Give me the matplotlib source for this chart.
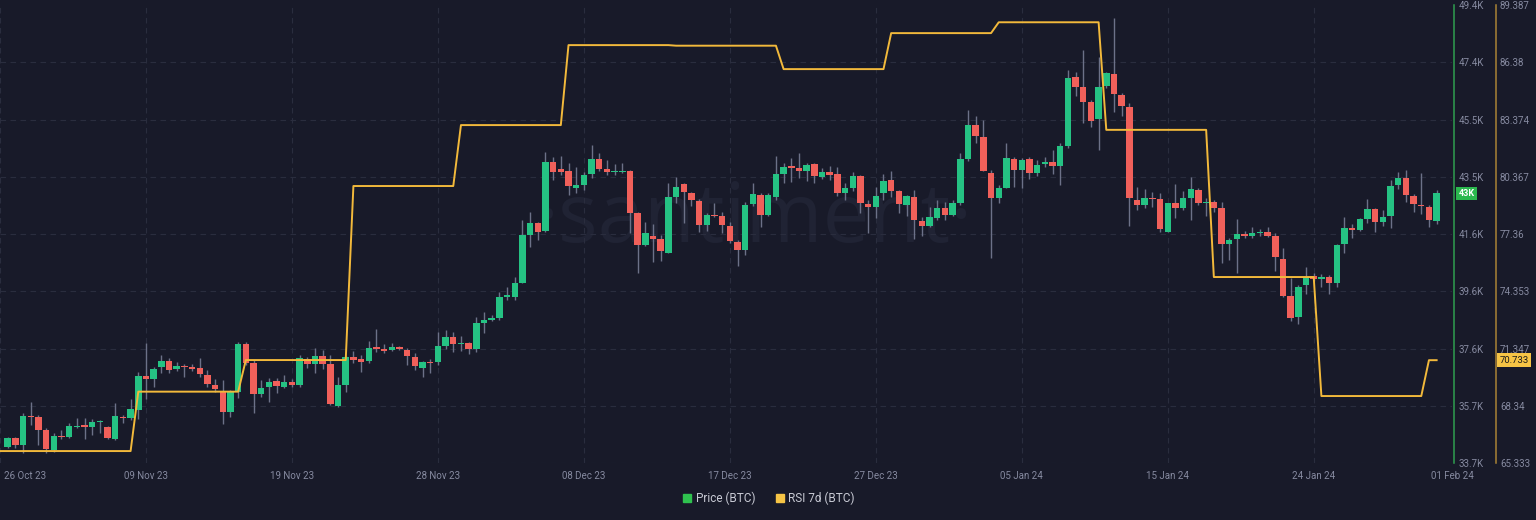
import numpy as np
import pandas as pd
import matplotlib
matplotlib.use("Agg")
import matplotlib.pyplot as plt
import matplotlib.dates as mdates
from matplotlib.lines import Line2D

plt.rcParams["font.family"] = ["Roboto", "DejaVu Sans"]

# 12h BTC candles, values in thousands of USD
candle_start = "2023-10-31 00:00"
opens = [
    34.26, 34.55, 34.32, 35.32, 35.27, 34.83, 34.14, 34.62, 34.60, 34.95,
    34.99, 34.92, 35.10, 34.92, 34.52, 35.29, 35.23, 35.52, 36.69, 36.58,
    36.98, 37.21, 36.91, 37.03, 36.98, 36.96, 36.71, 36.37, 36.14, 35.44,
    36.14, 37.78, 37.12, 36.05, 36.29, 36.51, 36.30, 36.48, 36.37, 37.25,
    37.09, 37.37, 37.08, 35.65, 36.37, 37.32, 37.26, 37.19, 37.67, 37.62,
    37.57, 37.69, 37.57, 37.34, 36.96, 37.17, 37.15, 37.72, 38.03, 37.78,
    37.80, 37.62, 38.49, 38.60, 38.67, 39.39, 39.40, 39.88, 41.51, 41.92,
    41.65, 44.02, 43.77, 43.71, 43.13, 43.23, 43.61, 44.11, 43.77, 43.68,
    43.67, 43.72, 42.26, 41.17, 41.49, 41.38, 40.91, 42.83, 43.26, 42.96,
    42.69, 41.86, 42.21, 42.15, 41.83, 41.26, 41.00, 42.58, 42.89, 42.20,
    42.81, 43.60, 43.88, 43.80, 43.71, 43.95, 43.51, 43.67, 43.60, 42.94,
    43.14, 43.54, 42.58, 42.46, 42.94, 43.40, 43.02, 42.54, 42.83, 42.00,
    41.83, 42.09, 42.43, 42.20, 42.62, 44.11, 45.30, 44.88, 43.63, 42.79,
    43.13, 44.12, 43.74, 44.11, 43.63, 43.95, 44.01, 43.89, 44.58, 46.94,
    46.60, 46.06, 45.48, 46.62, 47.02, 46.31, 45.91, 42.71, 42.54, 42.77,
    42.74, 41.63, 42.60, 42.43, 42.77, 43.06, 42.60, 42.66, 42.43, 41.20,
    41.37, 41.54, 41.48, 41.59, 41.61, 41.47, 40.69, 39.42, 38.71, 39.79,
    40.11, 40.01, 40.06, 39.86, 41.20, 41.74, 41.69, 42.05, 42.40, 41.97,
    42.16, 43.23, 43.46, 42.86, 42.55, 42.48, 41.98,
]
highs = [
    34.60, 34.60, 35.40, 35.80, 35.34, 34.89, 34.72, 34.83, 35.06, 35.23,
    35.23, 35.20, 35.17, 34.97, 35.74, 35.34, 35.88, 36.83, 37.82, 37.00,
    37.40, 37.29, 37.17, 37.11, 37.11, 37.29, 36.89, 36.57, 36.54, 36.20,
    37.84, 37.84, 37.23, 36.54, 36.60, 36.60, 36.71, 36.57, 37.40, 37.34,
    37.63, 37.57, 37.40, 36.66, 37.37, 37.55, 37.40, 37.88, 38.30, 37.78,
    37.80, 37.72, 37.63, 37.46, 37.21, 37.25, 38.20, 38.26, 38.18, 38.05,
    37.86, 38.71, 38.86, 38.77, 39.57, 39.73, 40.06, 42.03, 42.31, 41.95,
    44.36, 44.20, 44.22, 44.00, 43.86, 43.68, 44.60, 44.31, 44.09, 43.95,
    43.97, 43.74, 42.31, 41.97, 41.89, 41.51, 43.29, 43.51, 43.31, 43.00,
    42.74, 42.28, 42.60, 42.31, 41.97, 41.34, 42.63, 43.29, 42.94, 42.94,
    44.22, 43.99, 44.14, 44.31, 43.99, 43.97, 43.80, 43.88, 43.84, 43.29,
    43.68, 43.57, 42.71, 43.15, 43.60, 43.72, 43.06, 42.89, 43.06, 42.14,
    42.48, 42.71, 42.66, 42.71, 44.31, 45.80, 45.60, 45.46, 43.74, 43.23,
    44.68, 44.20, 44.14, 44.18, 44.09, 44.20, 44.43, 44.68, 47.17, 47.09,
    47.86, 46.14, 47.63, 47.11, 48.95, 46.39, 46.03, 43.17, 43.08, 43.00,
    42.94, 42.62, 43.26, 43.03, 43.51, 43.12, 42.77, 42.71, 42.66, 41.43,
    42.06, 41.66, 41.80, 41.72, 41.78, 41.57, 41.06, 40.05, 39.80, 40.41,
    40.20, 40.18, 40.13, 41.20, 42.14, 41.89, 42.09, 42.74, 42.43, 42.37,
    43.40, 43.66, 43.74, 42.92, 43.65, 42.54, 43.06,
]
lows = [
    34.20, 34.20, 34.05, 35.00, 34.32, 34.03, 34.09, 34.51, 34.55, 34.89,
    34.51, 34.66, 34.74, 34.51, 34.49, 35.08, 35.17, 35.20, 35.88, 36.31,
    36.77, 36.79, 36.86, 36.66, 36.86, 36.66, 36.31, 36.14, 35.02, 35.27,
    35.94, 37.06, 35.42, 35.97, 35.80, 36.11, 36.26, 36.29, 36.31, 36.94,
    36.79, 36.92, 35.69, 35.63, 36.14, 37.12, 36.83, 37.14, 37.50, 37.48,
    37.55, 37.57, 37.06, 36.89, 36.66, 36.79, 37.06, 37.61, 37.51, 37.55,
    37.43, 37.51, 38.17, 38.58, 38.60, 39.29, 39.29, 39.86, 41.11, 41.34,
    41.63, 43.40, 43.57, 42.89, 42.96, 43.06, 43.46, 43.72, 43.56, 43.56,
    43.63, 41.57, 40.22, 41.14, 40.59, 40.63, 40.89, 42.62, 41.92, 42.51,
    41.63, 41.66, 42.12, 41.57, 41.23, 40.45, 40.83, 42.51, 41.78, 42.17,
    42.71, 43.29, 43.34, 43.46, 43.38, 43.31, 43.42, 43.40, 42.85, 42.71,
    43.03, 42.28, 41.59, 42.09, 42.71, 42.83, 42.26, 42.17, 41.37, 41.48,
    41.78, 42.03, 42.03, 42.17, 42.54, 44.05, 44.67, 43.70, 40.73, 42.62,
    43.12, 43.17, 43.12, 43.42, 43.54, 43.86, 43.61, 43.23, 44.49, 46.28,
    45.36, 45.21, 44.43, 46.55, 45.74, 45.59, 41.83, 42.37, 42.43, 42.48,
    41.63, 41.61, 42.09, 42.37, 42.03, 42.54, 42.17, 42.31, 40.54, 40.66,
    40.22, 41.43, 41.40, 41.48, 41.44, 40.29, 39.38, 38.58, 38.45, 39.49,
    39.95, 39.72, 39.49, 39.74, 40.91, 41.40, 41.65, 41.94, 41.63, 41.82,
    41.76, 43.08, 42.64, 42.31, 42.23, 41.80, 41.89,
]
closes = [
    34.55, 34.32, 35.32, 35.29, 34.83, 34.17, 34.62, 34.59, 34.97, 34.96,
    34.94, 35.11, 35.12, 34.55, 35.32, 35.23, 35.54, 36.69, 36.58, 36.92,
    37.21, 36.89, 37.03, 36.98, 36.93, 36.74, 36.41, 36.24, 35.44, 36.14,
    37.78, 37.12, 36.05, 36.26, 36.49, 36.35, 36.48, 36.37, 37.29, 37.09,
    37.37, 37.09, 35.71, 36.37, 37.32, 37.23, 37.17, 37.63, 37.62, 37.54,
    37.69, 37.60, 37.38, 37.03, 37.15, 37.14, 37.72, 38.03, 37.77, 37.79,
    37.62, 38.49, 38.60, 38.68, 39.39, 39.45, 39.88, 41.51, 41.92, 41.61,
    44.02, 43.68, 43.68, 43.19, 43.23, 43.58, 44.11, 43.79, 43.67, 43.69,
    43.71, 42.26, 41.17, 41.57, 41.38, 40.98, 42.81, 43.15, 42.98, 42.71,
    41.86, 42.21, 42.15, 41.86, 41.31, 41.00, 42.54, 42.91, 42.20, 42.89,
    43.60, 43.84, 43.82, 43.71, 43.92, 43.54, 43.67, 43.58, 42.96, 43.14,
    43.54, 42.62, 42.46, 42.86, 43.38, 43.02, 42.57, 42.85, 42.03, 41.83,
    42.12, 42.43, 42.20, 42.62, 44.11, 45.29, 44.90, 43.72, 42.79, 43.13,
    44.14, 43.74, 44.09, 43.63, 43.90, 44.02, 43.89, 44.58, 46.91, 46.58,
    46.08, 45.42, 46.58, 47.06, 46.34, 45.95, 42.79, 42.54, 42.77, 42.74,
    41.72, 42.60, 42.45, 42.77, 43.08, 42.60, 42.66, 42.43, 41.20, 41.34,
    41.54, 41.48, 41.59, 41.63, 41.48, 40.75, 39.43, 38.68, 39.74, 40.06,
    40.00, 40.08, 39.86, 41.17, 41.74, 41.69, 42.05, 42.40, 41.97, 42.14,
    43.20, 43.48, 42.89, 42.57, 42.52, 42.03, 42.94,
]

# weekly RSI 7d, each value holds from its start time until the next one
rsi_start = [
    "2023-10-31 00:00", "2023-11-08 12:00", "2023-11-15 12:00", "2023-11-22 12:00",
    "2023-11-29 12:00", "2023-12-06 12:00", "2023-12-13 12:00", "2023-12-20 12:00",
    "2023-12-27 12:00", "2024-01-03 12:00", "2024-01-10 12:00", "2024-01-17 12:00",
    "2024-01-24 12:00", "2024-01-31 12:00",
]
rsi_values = [65.96, 69.08, 70.74, 79.88, 83.08, 87.28, 87.25, 86.02,
              87.91, 88.48, 82.83, 75.10, 68.85, 70.733]

price_ticks = ["33.7K", "35.7K", "37.6K", "39.6K", "41.6K", "43.5K", "45.5K", "47.4K", "49.4K"]
rsi_ticks = ["65.333", "68.34", "71.347", "74.353", "77.36", "80.367", "83.374", "86.38", "89.387"]
date_labels = ["26 Oct 23", "09 Nov 23", "19 Nov 23", "28 Nov 23", "08 Dec 23", "17 Dec 23",
               "27 Dec 23", "05 Jan 24", "15 Jan 24", "24 Jan 24", "01 Feb 24"]

BG = "#181a29"
GREEN = "#25c283"
RED = "#f0605a"
WICK = "#6c7188"
YELLOW = "#f2b93b"
TXT = "#868aa0"
GRID = "#2a2d3e"

times = pd.date_range(candle_start, periods=len(opens), freq="12h")
x = mdates.date2num(times)
o, h, l, c = (np.array(a) for a in (opens, highs, lows, closes))
up = c >= o

rsi_x = mdates.date2num(pd.to_datetime(rsi_start))
rsi_line = np.array(rsi_values)[np.searchsorted(rsi_x, x, side="right") - 1]

x0 = mdates.date2num(pd.Timestamp("2023-10-30 12:00"))
x1 = mdates.date2num(pd.Timestamp("2024-02-02 00:00"))

fig = plt.figure(figsize=(15.36, 5.2), dpi=100, facecolor=BG)
ax = fig.add_axes([0, 57 / 520, 1452 / 1536, 458 / 520])
ax.set_facecolor(BG)
ax2 = ax.twinx()

# watermark
ax.text(0.52, 0.53, "·santiment·", transform=ax.transAxes, ha="center", va="center",
        fontsize=60, color="#202334", family="Open Sans", zorder=0)

# candles
ax.vlines(x, l, h, color=WICK, lw=1, zorder=2)
body = np.maximum(np.abs(c - o), 0.03)
ax.bar(x, body, bottom=np.minimum(o, c), width=0.42,
       color=np.where(up, GREEN, RED), linewidth=0, zorder=3)

# RSI line runs in from the left edge
ax2.plot(np.r_[x0, x], np.r_[rsi_line[0], rsi_line], color=YELLOW, lw=1.4, zorder=4)

# axes, ticks, grid
pt = np.linspace(33.7, 49.4, 9)
rt = np.linspace(65.333, 89.387, 9)
ax.set_ylim(33.7, 49.4)
ax2.set_ylim(65.333, 89.387)
ax.set_xlim(x0, x1)
ax.yaxis.tick_right()
ax.set_yticks(pt, price_ticks)
ax2.set_yticks(rt, rsi_ticks)

xt = [x0 + 9.5 * k for k in range(10)] + [x1]
ax.set_xticks(xt, [""] + date_labels[1:])
ax.annotate(date_labels[0], xy=(0, 0), xycoords="axes fraction", xytext=(3, -6),
            textcoords="offset points", ha="left", va="top", fontsize=7, color=TXT)

for a in (ax, ax2):
    for s in a.spines.values():
        s.set_visible(False)
ax2.spines["left"].set_visible(True)
ax2.spines["left"].set_color("#2f9e50")
ax2.spines["left"].set_linewidth(1.1)
ax2.spines["left"].set_position(("axes", 1.0015))
ax2.spines["left"].set_zorder(6)
ax2.spines["right"].set_visible(True)
ax2.spines["right"].set_color("#a98336")
ax2.spines["right"].set_linewidth(1.1)
ax2.spines["right"].set_position(("outward", 31.5))

ax.tick_params(axis="y", length=0, pad=4.5, labelsize=7, labelcolor=TXT)
ax2.tick_params(axis="y", length=0, pad=3, labelsize=7, labelcolor=TXT)
ax.tick_params(axis="x", length=0, pad=5.5, labelsize=7, labelcolor=TXT)

for v in pt[:-1]:
    ax.axhline(v, color=GRID, lw=0.8, dashes=(5, 4), zorder=1)
for v in xt[:-1]:
    ax.axvline(v, color=GRID, lw=0.8, dashes=(5, 4), zorder=1)

# last value labels
ax.text(1.0045, c[-1], "43K", transform=ax.get_yaxis_transform(), ha="left", va="center",
        fontsize=6.5, color="white", fontweight="bold",
        bbox=dict(boxstyle="square,pad=0.25", fc="#2bb84e", ec="none"))
ax2.text(1.0325, rsi_values[-1], f"{rsi_values[-1]:.3f}", transform=ax2.get_yaxis_transform(),
         ha="left", va="center", fontsize=6.8, color="#1b1b1b",
         bbox=dict(boxstyle="square,pad=0.25", fc="#f6c445", ec="none"))

handles = [
    Line2D([], [], marker="s", ls="", color="#2fc24f", markersize=6, label="Price (BTC)"),
    Line2D([], [], marker="s", ls="", color="#f6c445", markersize=6, label="RSI 7d (BTC)"),
]
fig.legend(handles=handles, loc="center", bbox_to_anchor=(0.5, 0.042), ncol=2, frameon=False,
           fontsize=8.5, labelcolor="#c8cad4", handletextpad=0.2, columnspacing=1.6,
           handlelength=1.0)

fig.savefig("out.png", dpi=100, facecolor=BG)
